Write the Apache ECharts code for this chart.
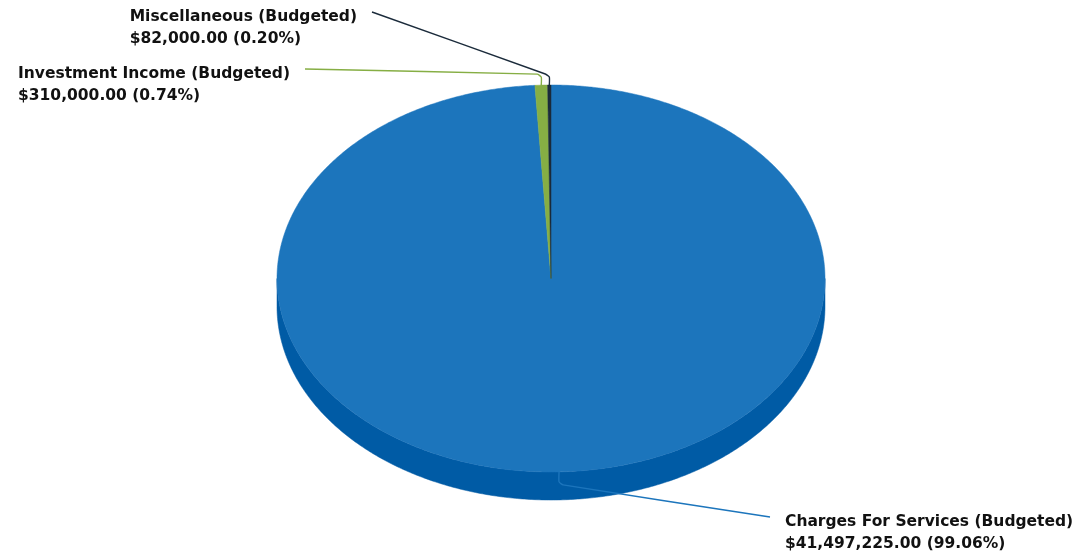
<!DOCTYPE html>
<html><head><meta charset="utf-8">
<script src="https://cdn.jsdelivr.net/npm/echarts@6/dist/echarts.min.js"></script>
<style>html,body{margin:0;padding:0;background:#fff}#c{width:1078px;height:555px}</style>
</head><body><div id="c"></div>
<script>
const categories = ['Charges For Services (Budgeted)', 'Investment Income (Budgeted)', 'Miscellaneous (Budgeted)'];
const values = [41497225, 310000, 82000];
const topColors = ['#1C75BC', '#86AE44', '#1B2B3B'];
const sideColors = ['#005BA5', '#6A9235', '#111D29'];

const total = values.reduce((a, b) => a + b, 0);
const cumBefore = values.map((v, i) => values.slice(0, i).reduce((a, b) => a + b, 0));

// layout (not data)
const CX = 551, CY = 278.5, RX = 274, RY = 193.5, DEPTH = 28;
const labelEnds = [[770, 517, 'left'], [305, 69, 'right'], [372, 12, 'right']];
const FONT = 'bold 15.5px "DejaVu Sans"';

const measureCtx = document.createElement('canvas').getContext('2d');
measureCtx.font = FONT;

function pt(t, dy) { return [CX + RX * Math.sin(t), CY + (dy || 0) - RY * Math.cos(t)]; }
function arc(a, b, dy) {
  const n = Math.max(2, Math.ceil((b - a) / (Math.PI / 360)));
  const out = [];
  for (let k = 0; k <= n; k++) out.push(pt(a + (b - a) * k / n, dy));
  return out;
}
function money(v) {
  return '$' + v.toLocaleString('en-US', { minimumFractionDigits: 2, maximumFractionDigits: 2 });
}

const chart = echarts.init(document.getElementById('c'), null, { renderer: 'canvas' });
chart.setOption({
  animation: false,
  series: [{
    type: 'custom',
    coordinateSystem: 'none',
    silent: true,
    data: values.map((v, i) => [v, cumBefore[i]]),
    renderItem: function (params, api) {
      const i = params.dataIndex;
      const v = api.value(0), before = api.value(1);
      const a = before / total * Math.PI * 2;
      const b = (before + v) / total * Math.PI * 2;
      const children = [];
      const sa = Math.max(a, Math.PI / 2), sb = Math.min(b, Math.PI * 3 / 2);
      if (sa < sb) {
        const pts = arc(sa, sb, 0).concat(arc(sa, sb, DEPTH).reverse());
        children.push({ type: 'polygon', z2: 1, shape: { points: pts },
          style: { fill: sideColors[i], stroke: sideColors[i], lineWidth: 0.5 } });
      }
      const topPts = [[CX, CY]].concat(arc(a, b, 0));
      children.push({ type: 'polygon', z2: 5, shape: { points: topPts },
        style: { fill: topColors[i], stroke: topColors[i], lineWidth: 0.5 } });
      const m = (a + b) / 2;
      const p0 = pt(m, 0);
      const front = Math.cos(m) < 0;
      const p1 = [p0[0], p0[1] + (front ? 10 : -8)];
      const e = labelEnds[i];
      const p2 = [p1[0] + (e[0] > p1[0] ? 4 : -4), p1[1] + (front ? 3 : -3)];
      children.push({ type: 'polyline', z2: 20,
        shape: { points: [p0, p1, p2, [e[0], e[1]]], smooth: 0.15 },
        style: { stroke: topColors[i], lineWidth: 1.4, fill: null } });
      const pct = (v / total * 100).toFixed(2);
      const l1 = categories[i], l2 = money(v) + ' (' + pct + '%)';
      const w = Math.max(measureCtx.measureText(l1).width, measureCtx.measureText(l2).width);
      children.push({ type: 'text', z2: 30,
        x: e[2] === 'left' ? e[0] + 15 : e[0] - 15 - w, y: e[1] - 6,
        style: { text: l1 + '\n' + l2,
          font: FONT, fill: '#111111', lineHeight: 22,
          align: 'left', verticalAlign: 'top' } });
      return { type: 'group', children: children };
    }
  }]
});
</script>
</body></html>
